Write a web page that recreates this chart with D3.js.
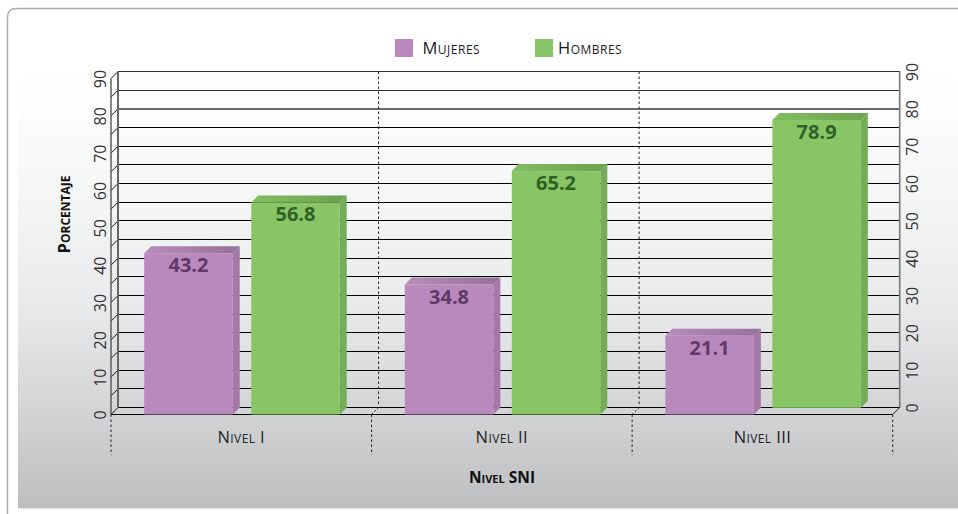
<!DOCTYPE html>
<html>
<head>
<meta charset="utf-8">
<script src="https://cdn.jsdelivr.net/npm/d3@7"></script>
<style>
html,body{margin:0;padding:0;background:#fff;overflow:hidden}
svg{display:block}
text{font-family:"Open Sans",sans-serif}
</style>
</head>
<body>
<svg id="c" width="958" height="514"></svg>
<script>
const niveles = ["Nivel I", "Nivel II", "Nivel III"];
const mujeres = [43.2, 34.8, 21.1];
const hombres = [56.8, 65.2, 78.9];
const hombresBase = [0, 0, 1.8];
const yTicks = [0, 10, 20, 30, 40, 50, 60, 70, 80, 90];
const gridValues = d3.range(0, 91, 5);
const seriesNames = ["Mujeres", "Hombres"];

const svg = d3.select("#c");
const defs = svg.append("defs");
const depth = 7;

const y = d3.scaleLinear().domain([0, 90]).range([414.5, 78.5]);
const yBack = v => y(v) - depth;
const x = d3.scaleBand().domain(niveles).range([111, 892.7]);
const BAR_W = 88.5, GAP = 18.5;

// background
const bg = defs.append("linearGradient").attr("id", "bg").attr("x1", 0).attr("y1", 0).attr("x2", 0).attr("y2", 1);
[[0, "#ffffff"], [0.1, "#fdfdfd"], [0.32, "#f4f5f5"], [0.54, "#e9eaeb"], [0.76, "#d5d6d8"], [1, "#bdbec0"]]
  .forEach(s => bg.append("stop").attr("offset", s[0]).attr("stop-color", s[1]));
svg.append("rect").attr("x", 18).attr("y", 60).attr("width", 940).attr("height", 448).attr("fill", "url(#bg)");
svg.append("rect").attr("x", 18).attr("y", 508).attr("width", 940).attr("height", 1).attr("fill", "#e4e4e5");
svg.append("path").attr("d", "M7.5,514V17.5Q7.5,8.5,16.5,8.5H958").attr("fill", "none").attr("stroke", "#ababab").attr("stroke-width", 1.4);

// legend
const legendColors = ["#b988bc", "#88c665"];
const legendX = d3.scalePoint().domain(seriesNames).range([395, 535]);
seriesNames.forEach((n, i) => {
  svg.append("rect").attr("x", legendX(n)).attr("y", 39).attr("width", 18).attr("height", 18).attr("fill", legendColors[i]);
  svg.append("text").attr("x", legendX(n) + (i ? 23 : 27.5)).attr("y", 54)
    .attr("font-size", 16.5).attr("font-variant", "small-caps").attr("letter-spacing", 0.5).attr("fill", "#1c1c1c").text(n);
});

// walls: grid lines
const xl = 111, xr = x.range()[1];
gridValues.forEach(v => {
  const heavy = v === 80;
  svg.append("line").attr("x1", xl + depth).attr("x2", xr + depth).attr("y1", yBack(v)).attr("y2", yBack(v))
    .attr("stroke", v === 90 ? "#333" : heavy ? "#6a6a6a" : v === 85 ? "#333" : "#000")
    .attr("stroke-width", heavy ? 2 : 1).attr("shape-rendering", "crispEdges");
  svg.append("line").attr("x1", xl).attr("x2", xl + depth).attr("y1", y(v)).attr("y2", yBack(v)).attr("stroke", "#111").attr("stroke-width", 1);
});
// wall verticals
svg.append("line").attr("x1", xl + depth).attr("x2", xl + depth).attr("y1", yBack(90)).attr("y2", yBack(0)).attr("stroke", "#666").attr("stroke-width", 2);
svg.append("line").attr("x1", xl).attr("x2", xl).attr("y1", y(90)).attr("y2", y(0)).attr("stroke", "#555").attr("stroke-width", 1.4);
svg.append("line").attr("x1", xr + depth).attr("x2", xr + depth).attr("y1", yBack(90)).attr("y2", yBack(0)).attr("stroke", "#777").attr("stroke-width", 1.6);
// floor
svg.append("line").attr("x1", xl).attr("x2", xr).attr("y1", y(0)).attr("y2", y(0)).attr("stroke", "#000").attr("stroke-width", 1).attr("shape-rendering", "crispEdges");
svg.append("line").attr("x1", xr).attr("x2", xr + depth).attr("y1", y(0)).attr("y2", yBack(0)).attr("stroke", "#222").attr("stroke-width", 1);

// dotted category dividers
const dividerAt = d3.range(0, 4).map(i => xl + i * x.step());
dividerAt.forEach((dx, i) => {
  svg.append("line").attr("x1", dx).attr("x2", dx).attr("y1", y(0)).attr("y2", 455)
    .attr("stroke", "#222").attr("stroke-width", 1).attr("stroke-dasharray", "2.5,2.5");
  if (i === 1 || i === 2) {
    svg.append("line").attr("x1", dx + depth).attr("x2", dx + depth).attr("y1", yBack(90)).attr("y2", yBack(0) - 1)
      .attr("stroke", "#222").attr("stroke-width", 1).attr("stroke-dasharray", "2.5,2.5");
    svg.append("line").attr("x1", dx).attr("x2", dx + depth).attr("y1", y(0)).attr("y2", yBack(0))
      .attr("stroke", "#222").attr("stroke-width", 1).attr("stroke-dasharray", "2,2");
  }
});

// bars
function hGrad(id, a, b) {
  const g = defs.append("linearGradient").attr("id", id);
  g.append("stop").attr("offset", 0).attr("stop-color", a);
  g.append("stop").attr("offset", 1).attr("stop-color", b);
}
hGrad("topM", "#b88cba", "#94709a");
hGrad("topH", "#82bd60", "#6ca14e");

function bar(x0, v, base, front, top, side, labelColor) {
  const x1 = x0 + BAR_W, yt = y(v), yb = y(base), d = depth;
  const g = svg.append("g");
  g.append("path").attr("d", d3.line()([[x1, yt], [x1 + d, yt - d], [x1 + d, yb - d], [x1, yb]])).attr("fill", side);
  g.append("path").attr("d", d3.line()([[x0, yt], [x0 + d, yt - d], [x1 + d, yt - d], [x1, yt]])).attr("fill", top);
  g.append("rect").attr("x", x0).attr("y", yt).attr("width", BAR_W).attr("height", yb - yt).attr("fill", front);
  g.append("text").attr("x", x0 + BAR_W / 2).attr("y", yt + 19)
    .attr("text-anchor", "middle").attr("font-size", 20).attr("font-weight", 700)
    .attr("fill", labelColor).text(v.toFixed(1));
}
niveles.forEach((n, i) => {
  const c = x(n) + x.bandwidth() / 2 + 0.7;
  const left = c - GAP / 2 - BAR_W;
  bar(left, mujeres[i], 0, "#b988bc", "url(#topM)", "#a578a8", "#5f3a66");
  bar(c + GAP / 2, hombres[i], hombresBase[i], "#88c665", "url(#topH)", "#73ad55", "#2f6128");
});

// axes
const styleAxis = (g) => {
  g.select(".domain").remove();
  g.selectAll(".tick line").remove();
  g.selectAll(".tick text")
    .attr("x", 0).attr("y", 0).attr("dy", 0)
    .attr("text-anchor", "middle").attr("dominant-baseline", "central")
    .attr("transform", "rotate(-90)")
    .attr("font-size", 16).attr("font-family", '"Open Sans",sans-serif').attr("fill", "#333");
};
svg.append("g").attr("transform", "translate(99.5,0)")
  .call(d3.axisLeft(y).tickValues(yTicks).tickFormat(d3.format("d")))
  .call(styleAxis);
svg.append("g").attr("transform", `translate(911.5,${-depth})`)
  .call(d3.axisRight(y).tickValues(yTicks).tickFormat(d3.format("d")))
  .call(styleAxis);

const xAxis = svg.append("g").attr("transform", "translate(0,442.5)")
  .call(d3.axisBottom(x).tickSize(0));
xAxis.select(".domain").remove();
xAxis.selectAll(".tick text").attr("y", 0).attr("dy", 0)
  .attr("font-size", 16.5).attr("font-variant", "small-caps").attr("letter-spacing", 0.4)
  .attr("font-family", '"Open Sans",sans-serif').attr("fill", "#222");

// titles
svg.append("text").attr("x", 502).attr("y", 483).attr("text-anchor", "middle")
  .attr("font-size", 15.5).attr("font-weight", 700).attr("font-variant", "small-caps").attr("fill", "#111").text("Nivel SNI");
svg.append("text").attr("transform", "translate(70,214.5) rotate(-90)").attr("text-anchor", "middle")
  .attr("font-size", 16.5).attr("font-weight", 700).attr("font-variant", "small-caps").attr("fill", "#111").text("Porcentaje");
</script>
</body>
</html>
